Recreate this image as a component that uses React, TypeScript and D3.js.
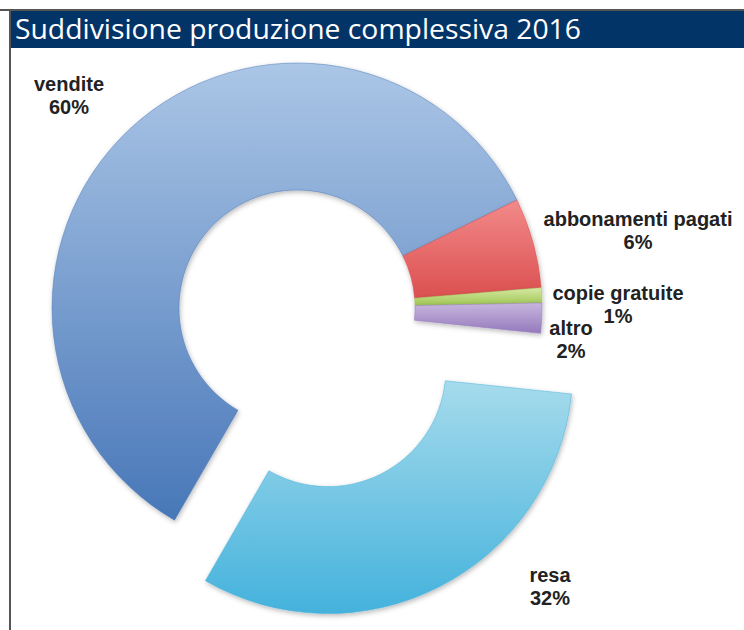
import React from "react";
import * as d3 from "d3";

const categories = ["vendite", "abbonamenti pagati", "copie gratuite", "altro", "resa"];
const values = [60, 6, 1, 2, 32];
const labelText = ["60%", "6%", "1%", "2%", "32%"];
const title = "Suddivisione produzione complessiva 2016";

// light (top) / dark (bottom) tones per slice
const topColors = ["#abc6e6", "#f28a8a", "#d6e9a4", "#c8b6dd", "#a6dbec"];
const bottomColors = ["#4877b8", "#dc4f50", "#9ec552", "#9479bd", "#44b2dc"];

// label anchor points (x centre, first-line baseline)
const labelAnchors: [number, number][] = [
  [69, 91],
  [638, 226],
  [618, 300],
  [571, 335],
  [550, 582],
];

const exploded = "resa";

const App = () => {
  const width = 744;
  const height = 630;
  const cx = 297;
  const cy = 308;
  const outerR = 245;
  const innerR = 118;
  const explodeBy = 68;

  const startAngle = (-150 * Math.PI) / 180;
  const pie = d3
    .pie<number>()
    .sort(null)
    .value((d) => d)
    .startAngle(startAngle)
    .endAngle(startAngle + 2 * Math.PI);
  const arcs = pie(values);

  const arc = d3.arc<d3.PieArcDatum<number>>().innerRadius(innerR).outerRadius(outerR);

  return (
    <svg
      width={width}
      height={height}
      style={{ position: "absolute", left: 0, top: 0, background: "#fff" }}
    >
      <defs>
        {categories.map((c, i) => (
          <linearGradient key={c} id={`g${i}`} x1="0" y1="0" x2="0" y2="1">
            <stop offset="0%" stopColor={topColors[i]} />
            <stop offset="100%" stopColor={bottomColors[i]} />
          </linearGradient>
        ))}
        <filter id="shadow" x="-20%" y="-20%" width="140%" height="140%">
          <feDropShadow dx="1" dy="2" stdDeviation="2.5" floodColor="#000" floodOpacity="0.28" />
        </filter>
      </defs>

      {/* frame */}
      <line x1={0} x2={width} y1={10} y2={10} stroke="#555" strokeWidth={2} />
      <line x1={10} x2={10} y1={10} y2={height} stroke="#555" strokeWidth={2} />

      {/* title bar */}
      <rect x={11} y={11} width={width - 11} height={37} fill="#033468" />
      <text
        x={15}
        y={39}
        fill="#fff"
        fontFamily="'Open Sans', sans-serif"
        fontSize={28}
        textLength={566}
        lengthAdjust="spacingAndGlyphs"
      >
        {title}
      </text>

      {/* donut */}
      <g transform={`translate(${cx},${cy})`}>
        {arcs.map((a, i) => {
          const mid = (a.startAngle + a.endAngle) / 2;
          const off = categories[i] === exploded ? explodeBy : 0;
          const dx = Math.sin(mid) * off;
          const dy = -Math.cos(mid) * off;
          return (
            <path
              key={categories[i]}
              d={arc(a) || ""}
              transform={`translate(${dx},${dy})`}
              fill={`url(#g${i})`}
              stroke={bottomColors[i]}
              strokeOpacity={0.6}
              strokeWidth={0.8}
              filter="url(#shadow)"
            />
          );
        })}
      </g>

      {/* labels */}
      {categories.map((c, i) => (
        <text
          key={`l-${c}`}
          x={labelAnchors[i][0]}
          y={labelAnchors[i][1]}
          textAnchor="middle"
          fontFamily="'Liberation Sans', Arial, sans-serif"
          fontWeight="bold"
          fontSize={20}
          fill="#222"
        >
          <tspan x={labelAnchors[i][0]}>{c}</tspan>
          <tspan x={labelAnchors[i][0]} dy={23}>
            {labelText[i]}
          </tspan>
        </text>
      ))}
    </svg>
  );
};

export default App;
